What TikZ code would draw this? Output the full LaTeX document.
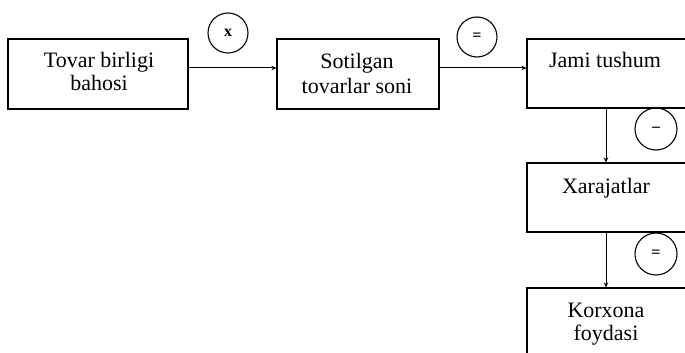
\documentclass[tikz,border=0pt]{standalone}
\usepackage{fontspec}
\setmainfont{Liberation Serif}
\usetikzlibrary{arrows.meta}
\begin{document}
\begin{tikzpicture}[x=1pt,y=-1pt,
  box/.style={draw,line width=1.1pt,inner sep=0pt,minimum width=#1,minimum height=70pt},
  lbl/.style={anchor=base,inner sep=0pt,font=\fontsize{22}{25}\selectfont},
  op/.style={draw,circle,line width=1.1pt,minimum size=40pt,inner sep=0pt,font=\bfseries\fontsize{16}{16}\selectfont},
  arr/.style={line width=1pt,-{Stealth[length=5pt,width=4.5pt]}}]
\useasboundingbox (0,0) rectangle (685,353);
\clip (0,0) rectangle (685,353);
\node[box=180pt] (b1) at (98,74) {};
\node[box=162pt] (b2) at (358,74) {};
\node[box=163pt,minimum height=69pt] (b3) at (608.5,73.5) {};
\node[box=163pt,minimum height=69pt] (b4) at (608.5,197.5) {};
\node[box=163pt,minimum height=80pt] (b5) at (608.5,328) {};
\node[lbl] (t1a) at (99,67) {Tovar birligi};
\node[lbl] (t1b) at (99,90) {bahosi};
\node[lbl] (t2a) at (357,68) {Sotilgan};
\node[lbl] (t2b) at (357,93) {tovarlar soni};
\node[lbl] (t3) at (605,67) {Jami tushum};
\node[lbl] (t4) at (606,193) {Xarajatlar};
\node[lbl] (t5a) at (606,317) {Korxona};
\node[lbl] (t5b) at (606,340) {foydasi};
\node[op] (c1) at (228,33) {x};
\node[op] (c2) at (477,37) {=};
\node[op,minimum size=42pt] (c3) at (656,129) {--};
\node[op,minimum size=42pt] (c4) at (656,254) {=};
\coordinate (h) at (0,68);
\coordinate (v) at (606,0);
\draw[arr] (b1.east |- h) -- (b2.west |- h);
\draw[arr] (b2.east |- h) -- (b3.west |- h);
\draw[arr] (b3.south -| v) -- (b4.north -| v);
\draw[arr] (b4.south -| v) -- (b5.north -| v);
\end{tikzpicture}
\end{document}
